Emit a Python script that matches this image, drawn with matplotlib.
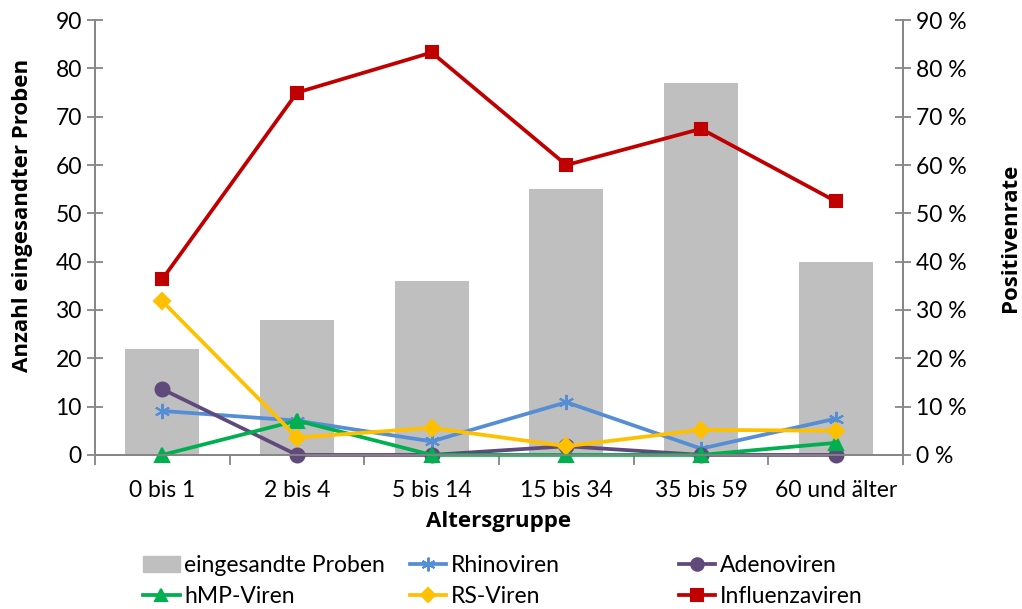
import matplotlib.pyplot as plt
import numpy as np
from matplotlib.patches import Patch
from matplotlib.ticker import FuncFormatter, FixedLocator

plt.rcParams['font.family'] = ['Lato', 'DejaVu Sans']

# Data
groups = ["0 bis 1", "2 bis 4", "5 bis 14", "15 bis 34", "35 bis 59", "60 und älter"]
proben = [22, 28, 36, 55, 77, 40]
rhino = [9.1, 7.1, 2.8, 10.9, 1.3, 7.5]
adeno = [13.6, 0, 0, 1.8, 0, 0]
hmp = [0, 7.1, 0, 0, 0, 2.5]
rsv = [31.8, 3.6, 5.6, 1.8, 5.2, 5.0]
influenza = [36.4, 75.0, 83.3, 60.0, 67.5, 52.5]

axis_col = "#868686"
title_font = dict(family=['Open Sans', 'DejaVu Sans'], fontsize=16, fontweight='bold')
x = np.arange(len(groups))

fig = plt.figure(figsize=(10.22, 6.09), dpi=100)
ax1 = fig.add_axes([0.093, 0.253, 0.7906, 0.714])
ax2 = ax1.twinx()

ax1.bar(x, proben, width=0.55, color="#BFBFBF", zorder=1)

series = [
    (rhino, "#558ED5", (6, 2, 0), 11, "Rhinoviren"),
    (adeno, "#604A7B", "o", 10, "Adenoviren"),
    (hmp, "#00B050", "^", 10, "hMP-Viren"),
    (rsv, "#FFC000", "D", 8, "RS-Viren"),
    (influenza, "#C00000", "s", 9, "Influenzaviren"),
]
handles = {}
for vals, col, mk, ms, lab in series:
    ln, = ax2.plot(x, vals, color=col, lw=2.7, marker=mk, markersize=ms,
                   markeredgecolor=col, markerfacecolor=col, mew=1.5, clip_on=False)
    handles[lab] = ln

for ax in (ax1, ax2):
    ax.set_ylim(0, 90)
    ax.set_xlim(-0.5, 5.5)
    ax.spines['top'].set_visible(False)
    for s in ('left', 'right', 'bottom'):
        ax.spines[s].set_color(axis_col)
        ax.spines[s].set_linewidth(1.3)
    ax.tick_params(axis='y', which='both', direction='inout', length=12, width=1.3,
                   colors=axis_col, labelcolor='black', labelsize=16.5)

ax1.set_yticks(np.arange(0, 91, 10))
ax2.set_yticks(np.arange(0, 91, 10))
ax2.yaxis.set_major_formatter(FuncFormatter(lambda v, p: f"{v:.0f} %"))

ax1.set_xticks(x)
ax1.set_xticklabels(groups)
ax1.tick_params(axis='x', which='major', length=0, labelsize=16.5, pad=18)
ax1.xaxis.set_minor_locator(FixedLocator(np.arange(-0.5, 6, 1)))
ax1.tick_params(axis='x', which='minor', direction='out', length=7, width=1.3, colors=axis_col)

ax1.set_xlabel("Altersgruppe", **title_font)
ax1.xaxis.set_label_coords(0.5, -0.13)
ax1.set_ylabel("Anzahl eingesandter Proben", **title_font)
ax1.yaxis.set_label_coords(-0.077, 0.55)
ax2.set_ylabel("Positivenrate", rotation=90, **title_font)
ax2.yaxis.set_label_coords(1.12, 0.5)

bar_handle = Patch(color="#BFBFBF")
cols = [
    ([bar_handle, handles["hMP-Viren"]], ["eingesandte Proben", "hMP-Viren"], 0.140),
    ([handles["Rhinoviren"], handles["RS-Viren"]], ["Rhinoviren", "RS-Viren"], 0.401),
    ([handles["Adenoviren"], handles["Influenzaviren"]], ["Adenoviren", "Influenzaviren"], 0.664),
]
for hs, ls, xpos in cols:
    fig.legend(hs, ls, loc='upper left', bbox_to_anchor=(xpos, 0.088), frameon=False,
               fontsize=16.5, handlelength=1.6, handletextpad=0.2, labelspacing=0.42,
               borderaxespad=0, borderpad=0, markerscale=0.9)

fig.savefig("out.png", dpi=100)
